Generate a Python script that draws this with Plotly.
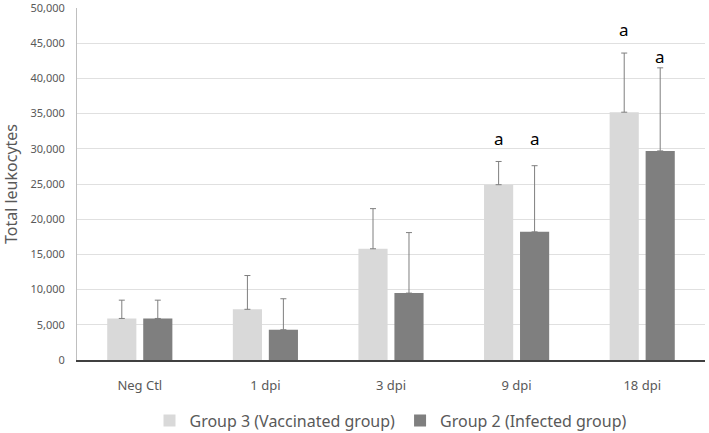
import plotly.graph_objects as go

categories = ["Neg Ctl", "1 dpi", "3 dpi", "9 dpi", "18 dpi"]
group3_values = [5900, 7200, 15800, 24900, 35200]
group3_err = [2600, 4800, 5700, 3300, 8400]
group2_values = [5900, 4300, 9500, 18200, 29700]
group2_err = [2600, 4400, 8600, 9400, 11800]
series_names = ["Group 3 (Vaccinated group)", "Group 2 (Infected group)"]
sig_labels = [("9 dpi", 0, 31500), ("9 dpi", 1, 31500), ("18 dpi", 0, 46900), ("18 dpi", 1, 43100)]

font_family = "Noto Sans, Open Sans, sans-serif"
grey_text = "#595959"

fig = go.Figure()
fig.add_trace(go.Bar(
    x=categories, y=group3_values, name=series_names[0],
    marker=dict(color="#d9d9d9", line=dict(width=0)),
    error_y=dict(type="data", array=group3_err, arrayminus=[0]*5, symmetric=False,
                 color="#7f7f7f", thickness=1, width=3),
))
fig.add_trace(go.Bar(
    x=categories, y=group2_values, name=series_names[1],
    marker=dict(color="#7f7f7f", line=dict(width=0)),
    error_y=dict(type="data", array=group2_err, arrayminus=[0]*5, symmetric=False,
                 color="#7f7f7f", thickness=1, width=3),
))

annotations = []
for cat, idx, yv in sig_labels:
    annotations.append(dict(
        x=cat, y=yv, xref="x", yref="y", text="a", showarrow=False,
        xshift=-18 if idx == 0 else 18,
        font=dict(size=17, color="#000000", family=font_family),
    ))

fig.update_layout(
    width=709, height=433,
    margin=dict(l=77, r=4, t=8, b=73, autoexpand=False),
    paper_bgcolor="white", plot_bgcolor="white",
    barmode="group", bargap=0.427, bargroupgap=0.19,
    font=dict(family=font_family, color=grey_text, size=12),
    showlegend=True,
    legend=dict(orientation="h", x=0.5, xanchor="center", y=-0.124, yanchor="top",
                font=dict(size=16, color=grey_text), traceorder="normal",
                itemwidth=30, tracegroupgap=0),
    annotations=annotations,
    xaxis=dict(showline=True, linecolor="#404040", linewidth=1.5, ticks="",
               automargin=False, ticklabelstandoff=13,
               tickfont=dict(size=13, color=grey_text), showgrid=False),
    yaxis=dict(range=[0, 50000.01], tickvals=list(range(0, 50001, 5000)), tickformat=",",
               showgrid=True, automargin=False, ticklabeloverflow="allow",
               gridcolor="#e0e0e0", gridwidth=1, showline=True, linecolor="#bfbfbf",
               linewidth=1, ticks="", zeroline=False, ticklabelstandoff=9,
               tickfont=dict(size=11, color=grey_text),
               title=dict(text="Total leukocytes", font=dict(size=16, color=grey_text), standoff=20)),
)

fig.write_html("out.html", config={"displayModeBar": False},
               post_script="document.body.style.margin='0';")
